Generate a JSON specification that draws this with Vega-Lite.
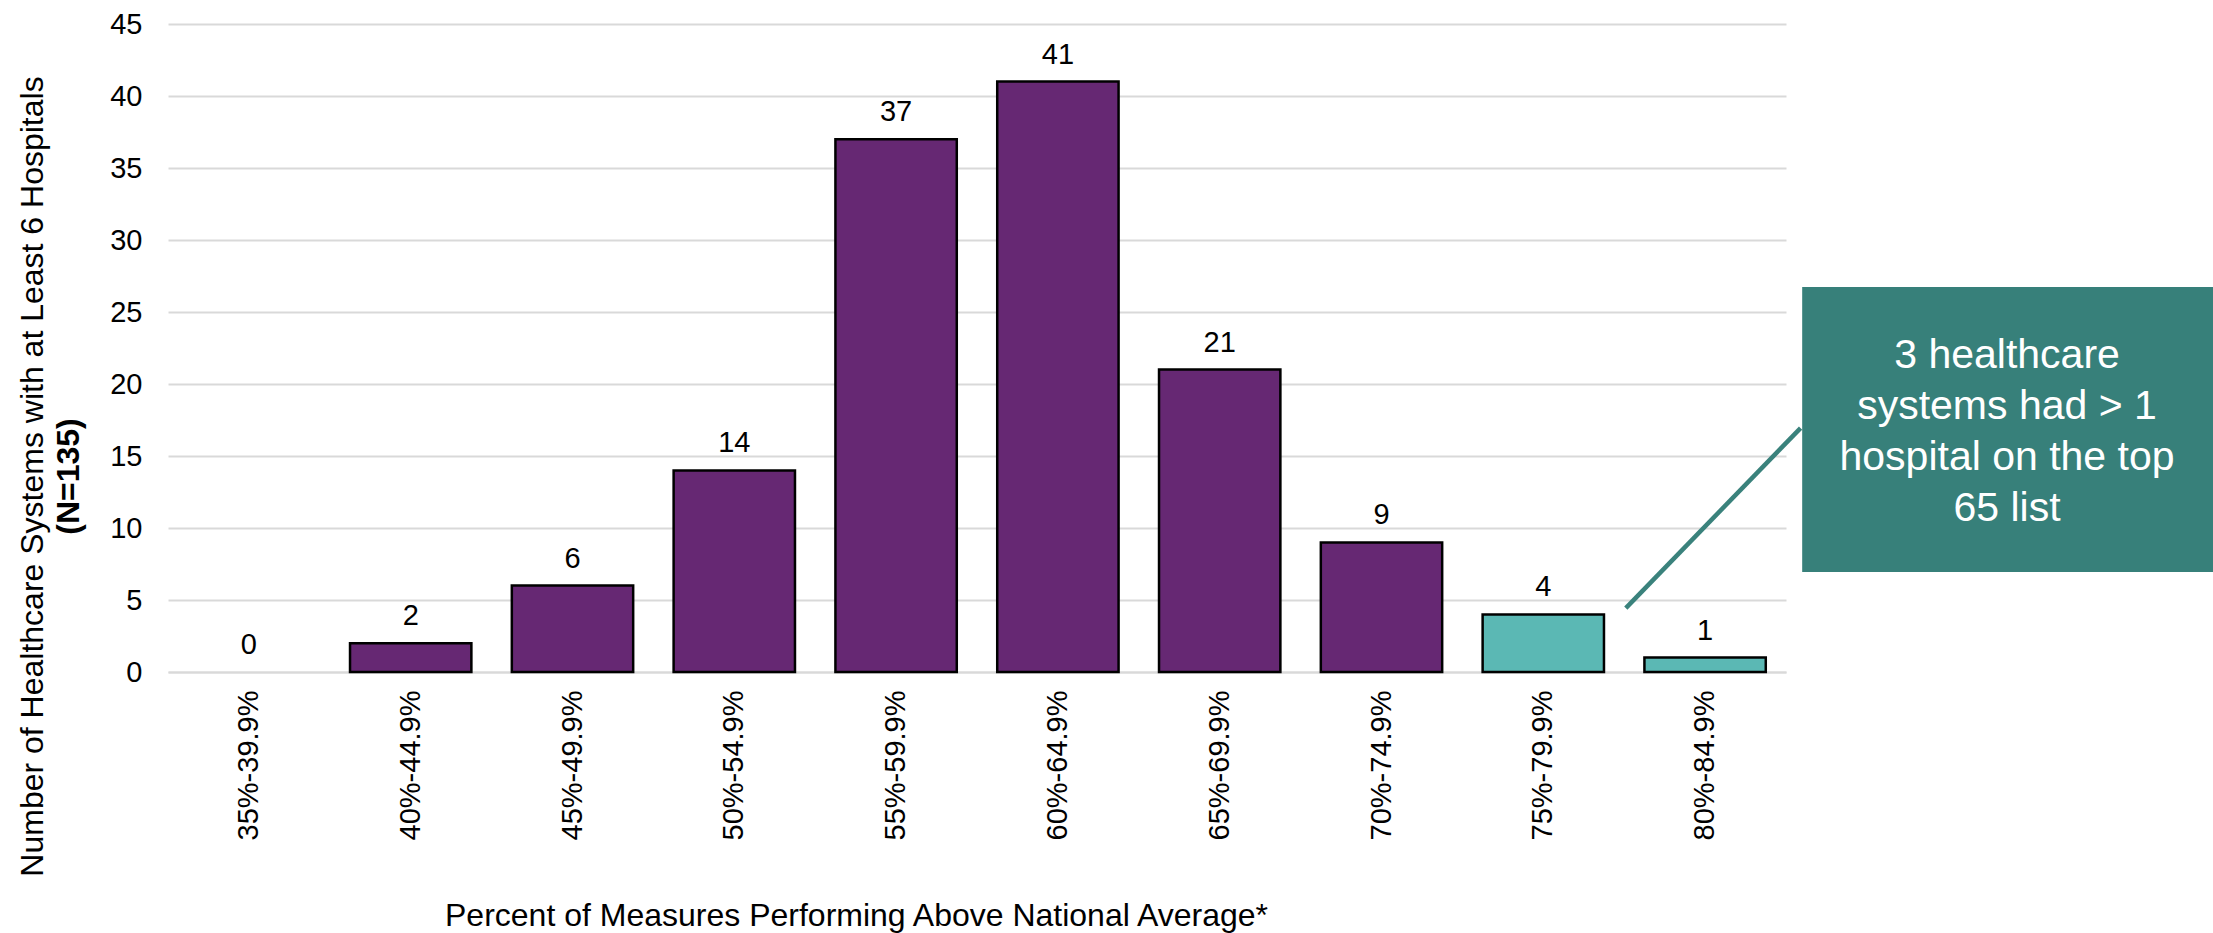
{
  "$schema": "https://vega.github.io/schema/vega-lite/v6.json",
  "autosize": {"type": "none"},
  "width": 1618,
  "height": 648,
  "padding": {"left": 168, "top": 24, "right": 427, "bottom": 261},
  "background": "white",
  "config": {
    "view": {"stroke": null},
    "font": "Liberation Sans",
    "axis": {"labelFont": "Liberation Sans", "titleFont": "Liberation Sans", "labelColor": "#000000", "titleColor": "#000000"}
  },
  "datasets": {
    "bars": [
      {"range": "35%-39.9%", "count": 0, "multi": "no"},
      {"range": "40%-44.9%", "count": 2, "multi": "no"},
      {"range": "45%-49.9%", "count": 6, "multi": "no"},
      {"range": "50%-54.9%", "count": 14, "multi": "no"},
      {"range": "55%-59.9%", "count": 37, "multi": "no"},
      {"range": "60%-64.9%", "count": 41, "multi": "no"},
      {"range": "65%-69.9%", "count": 21, "multi": "no"},
      {"range": "70%-74.9%", "count": 9, "multi": "no"},
      {"range": "75%-79.9%", "count": 4, "multi": "yes"},
      {"range": "80%-84.9%", "count": 1, "multi": "yes"}
    ],
    "box": [{"x": 10.1, "x2": 13.0, "y": 6.94, "y2": 26.74}],
    "connector": [{"x": 9.01, "y": 4.44, "x2": 10.09, "y2": 16.94}],
    "note": [{"x": 11.366, "y": 21.11, "label": ["3 healthcare", "systems had > 1", "hospital on the top", "65 list"]}]
  },
  "layer": [
    {
      "data": {"name": "bars"},
      "encoding": {
        "x": {
          "field": "range", "type": "nominal", "sort": null,
          "scale": {"paddingInner": 0.25, "paddingOuter": 0.125},
          "axis": {
            "labelAngle": -90, "labelFontSize": 29, "labelPadding": 18,
            "ticks": false, "domain": true, "domainColor": "#d9d9d9", "domainWidth": 2,
            "title": "Percent of Measures Performing Above National Average*",
            "titleFontSize": 32, "titleFontWeight": "normal",
            "titleX": 688, "titleY": 253, "titleBaseline": "alphabetic", "titleAlign": "center"
          }
        }
      },
      "layer": [
        {
          "mark": {"type": "bar", "stroke": "#000000", "strokeWidth": 2.5},
          "encoding": {
            "y": {
              "field": "count", "type": "quantitative",
              "scale": {"domain": [0, 45], "nice": false},
              "axis": {
                "values": [0, 5, 10, 15, 20, 25, 30, 35, 40, 45],
                "labelFontSize": 29, "labelPadding": 26, "ticks": false, "domain": false,
                "gridColor": "#d9d9d9", "gridWidth": 2,
                "title": "Number of Healthcare Systems with at Least 6 Hospitals",
                "titleFontSize": 32, "titleFontWeight": "normal",
                "titleAngle": -90, "titleX": -126, "titleY": 452,
                "titleBaseline": "alphabetic", "titleAlign": "center"
              }
            },
            "color": {
              "field": "multi", "type": "nominal",
              "scale": {"domain": ["no", "yes"], "range": ["#662873", "#5BB8B4"]},
              "legend": null
            },
            "strokeOpacity": {
              "condition": {"test": "datum.count > 0", "value": 1},
              "value": 0
            }
          }
        },
        {
          "mark": {"type": "text", "fontSize": 29, "baseline": "alphabetic", "dy": -18, "color": "#000000"},
          "encoding": {
            "y": {"field": "count", "type": "quantitative"},
            "text": {"field": "count", "type": "quantitative"}
          }
        }
      ]
    },
    {
      "layer": [
        {
          "data": {"name": "box"},
          "mark": {"type": "rect", "color": "#37807A"},
          "encoding": {
            "x": {"field": "x", "type": "quantitative", "scale": {"domain": [0, 10], "nice": false, "zero": false}, "axis": null},
            "x2": {"field": "x2"},
            "y": {"field": "y", "type": "quantitative",
                  "axis": {"orient": "left", "labels": false, "ticks": false, "domain": false, "grid": false,
                           "title": "(N=135)", "titleFontSize": 32, "titleFontWeight": "bold",
                           "titleAngle": -90, "titleX": -90, "titleY": 452,
                           "titleBaseline": "alphabetic", "titleAlign": "center"}},
            "y2": {"field": "y2"}
          }
        },
        {
          "data": {"name": "connector"},
          "mark": {"type": "rule", "color": "#3A827C", "strokeWidth": 4.5},
          "encoding": {
            "x": {"field": "x", "type": "quantitative"},
            "y": {"field": "y", "type": "quantitative"},
            "x2": {"field": "x2"},
            "y2": {"field": "y2"}
          }
        },
        {
          "data": {"name": "note"},
          "mark": {"type": "text", "fontSize": 41, "color": "#ffffff", "align": "center", "baseline": "alphabetic", "lineHeight": 51},
          "encoding": {
            "x": {"field": "x", "type": "quantitative"},
            "y": {"field": "y", "type": "quantitative"},
            "text": {"field": "label"}
          }
        }
      ]
    }
  ],
  "resolve": {"scale": {"x": "independent"}, "axis": {"x": "independent", "y": "independent"}}
}
